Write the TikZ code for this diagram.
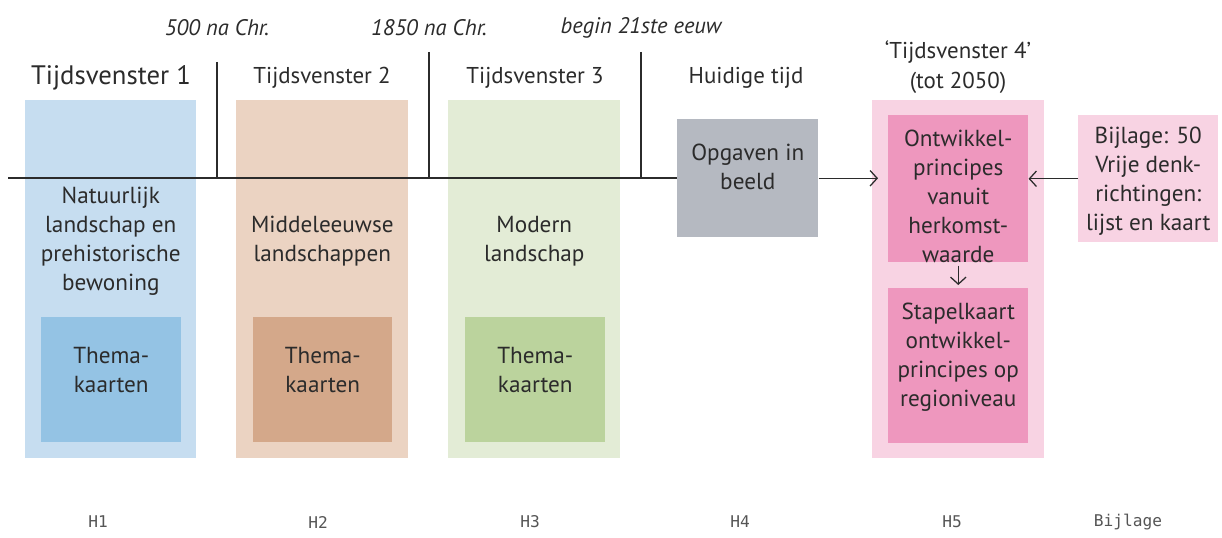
\documentclass[tikz,border=0pt]{standalone}
\usepackage{fontspec}
\setmainfont{PT Sans}
\newfontfamily\hfont{DejaVu Sans Mono}
\usetikzlibrary{positioning,arrows.meta}

\definecolor{tvblue}{HTML}{C6DDF0}
\definecolor{tvbluedark}{HTML}{94C3E4}
\definecolor{tvpeach}{HTML}{EBD3C2}
\definecolor{tvpeachdark}{HTML}{D4A88A}
\definecolor{tvgreen}{HTML}{E3ECD6}
\definecolor{tvgreendark}{HTML}{BBD39D}
\definecolor{tvgray}{HTML}{B5B9C1}
\definecolor{tvpink}{HTML}{F8D3E3}
\definecolor{tvpinkdark}{HTML}{EE97BE}
\definecolor{inkgray}{HTML}{2B2B2B}
\definecolor{hgray}{HTML}{555555}

\newlength\px
\setlength\px{0.025cm}

\tikzset{
  panel/.style={inner sep=0pt, anchor=north west, draw=none},
  bodytext/.style={align=center, inner sep=0pt, text=inkgray,
    font=\fontsize{16.5}{20.6}\selectfont},
  headtext/.style={inner sep=0pt, text=inkgray, font=\fontsize{16.3}{20}\selectfont},
  datetext/.style={inner sep=0pt, text=inkgray, font=\fontsize{16}{18}\selectfont\itshape},
  chaptext/.style={inner sep=0pt, text=hgray, font=\hfont\fontsize{11.5}{14}\selectfont},
  timeline/.style={draw=inkgray, line width=0.9pt},
  flow/.style={draw=inkgray, line width=0.9pt, -{Straight Barb[length=5pt, width=11pt]}}
}

\begin{document}
\begin{tikzpicture}[x=0.025cm, y=-0.025cm]
\useasboundingbox (0,0) rectangle (1222,538);

% kolommen
\node[panel, fill=tvblue, minimum width=171\px, minimum height=358\px] (tv1) at (25,100) {};
\node[panel, fill=tvbluedark, minimum width=140\px, minimum height=125\px] (tv1k) at (41,317) {};
\node[panel, fill=tvpeach, minimum width=172\px, minimum height=358\px] (tv2) at (236,100) {};
\node[panel, fill=tvpeachdark, minimum width=139\px, minimum height=125\px] (tv2k) at (253,317) {};
\node[panel, fill=tvgreen, minimum width=172\px, minimum height=358\px] (tv3) at (448,100) {};
\node[panel, fill=tvgreendark, minimum width=140\px, minimum height=125\px] (tv3k) at (465,317) {};
\node[panel, fill=tvpink, minimum width=172\px, minimum height=358\px] (tv4) at (872,100) {};

% tijdlijn
\coordinate (begin) at (8,178);
\coordinate (tick1) at (217,62);
\coordinate (tick2) at (429,52);
\coordinate (tick3) at (641,52);
\node[panel, fill=tvgray, minimum width=141\px, minimum height=118\px] (opgaven) at (677,119) {};
\draw[timeline] (begin) -- (begin -| opgaven.west);
\draw[timeline] (tick1) -- (tick1 |- begin);
\draw[timeline] (tick2) -- (tick2 |- begin);
\draw[timeline] (tick3) -- (tick3 |- begin);

\node[panel, fill=tvpinkdark, minimum width=140\px, minimum height=147\px] (ontw) at (888,115) {};
\node[panel, fill=tvpinkdark, minimum width=140\px, minimum height=155\px] (stapel) at (888,288) {};
\node[panel, fill=tvpink, minimum width=140\px, minimum height=127\px] (bijlage) at (1078,115) {};

% data
\node[datetext] (d1) at (217,28) {500 na Chr.};
\node[datetext] (d2) at (429,28) {1850 na Chr.};
\node[datetext] (d3) at (641,28) {begin 21ste eeuw};

% koppen
\node[headtext, font=\fontsize{19}{20}\selectfont] (k1) at (111,78) {Tijdsvenster 1};
\node[headtext] (k2) at (322,78) {Tijdsvenster 2};
\node[headtext] (k3) at (535,78) {Tijdsvenster 3};
\node[headtext] (k4) at (746,78) {Huidige tijd};
\node[headtext, align=center, font=\fontsize{16.3}{21.3}\selectfont] (k5) at (958,67) {‘Tijdsvenster 4’\\(tot 2050)};

% teksten
\node[bodytext, below=87\px of tv1.north] (t1) {Natuurlijk\\landschap en\\prehistorische\\bewoning};
\node[bodytext, yshift=10\px] (t1k) at (tv1k) {Thema-\\kaarten};
\node[bodytext, below=116\px of tv2.north] (t2) {Middeleeuwse\\landschappen};
\node[bodytext, yshift=10\px] (t2k) at (tv2k) {Thema-\\kaarten};
\node[bodytext, below=116\px of tv3.north] (t3) {Modern\\landschap};
\node[bodytext, yshift=10\px] (t3k) at (tv3k) {Thema-\\kaarten};
\node[bodytext, below=25\px of opgaven.north] (t4) {Opgaven in\\beeld};
\node[bodytext, below=15\px of ontw.north] (t5a) {Ontwikkel-\\principes\\vanuit\\herkomst-\\waarde};
\node[bodytext, below=15\px of stapel.north] (t5b) {Stapelkaart\\ontwikkel-\\principes op\\regioniveau};
\node[bodytext, below=12\px of bijlage.north] (t6) {Bijlage: 50\\Vrije denk-\\richtingen:\\lijst en kaart};

% pijlen
\draw[flow] (opgaven.east) -- ([xshift=6\px]tv4.west |- opgaven.east);
\draw[flow] (bijlage.west) -- (bijlage.west -| ontw.east);
\draw[flow, shorten <=3\px, shorten >=3\px] (ontw.south) -- (stapel.north);

% hoofdstukken
\node[chaptext] (h1) at (98,522) {H1};
\node[chaptext] (h2) at (318,522) {H2};
\node[chaptext] (h3) at (530,522) {H3};
\node[chaptext] (h4) at (740,522) {H4};
\node[chaptext] (h5) at (952,522) {H5};
\node[chaptext] (h6) at (1128,522) {Bijlage};
\end{tikzpicture}
\end{document}
